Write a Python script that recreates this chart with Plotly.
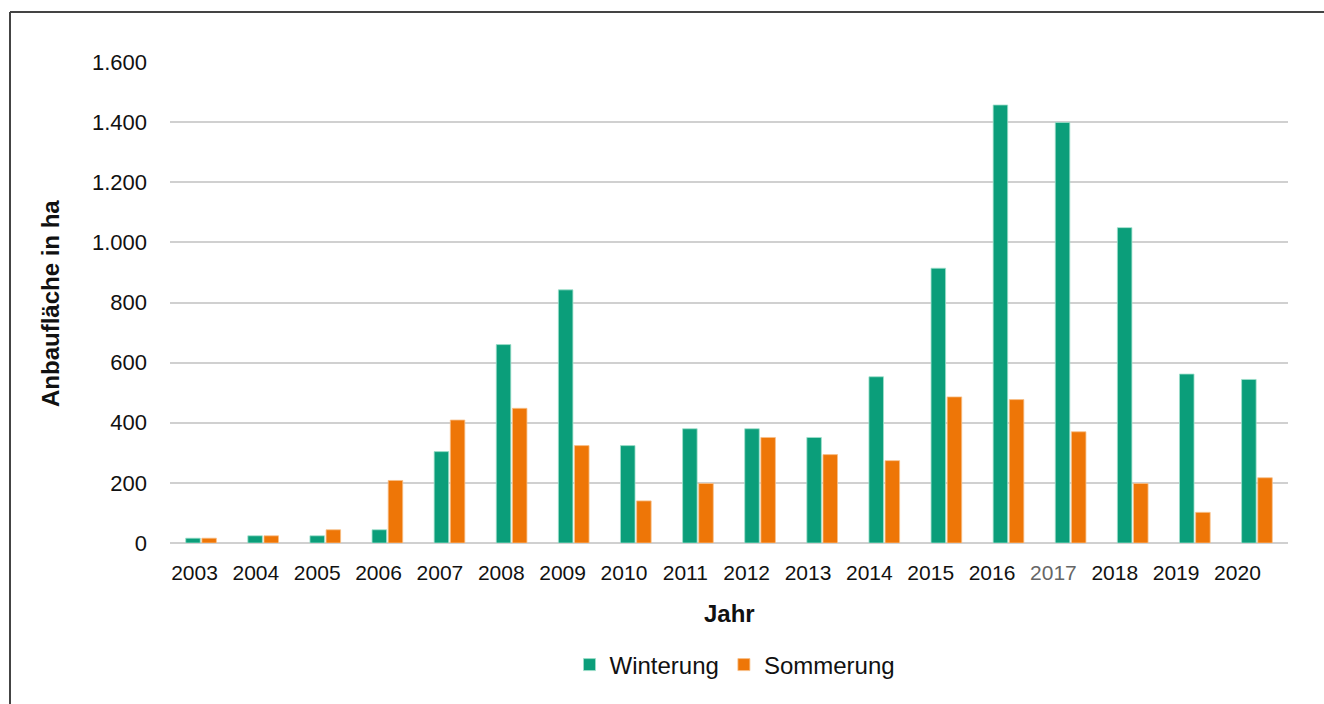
import plotly.graph_objects as go

years = [2003, 2004, 2005, 2006, 2007, 2008, 2009, 2010, 2011, 2012,
         2013, 2014, 2015, 2016, 2017, 2018, 2019, 2020]
winterung = [16, 24, 24, 44, 304, 660, 842, 324, 380, 380,
             351, 553, 914, 1457, 1399, 1049, 562, 544]
sommerung = [16, 24, 44, 208, 409, 448, 324, 140, 198, 351,
             294, 274, 486, 477, 370, 198, 102, 217]
tick_text = [str(y) if y != 2017 else '<span style="color:#666666">2017</span>' for y in years]
y_ticks = [0, 200, 400, 600, 800, 1000, 1200, 1400, 1600]

GREEN = "#0B9E7A"
ORANGE = "#EE7607"
FONT = "Liberation Sans, Arial, Helvetica, sans-serif"

cats = [str(y) for y in years]

fig = go.Figure()
fig.add_trace(go.Bar(x=cats, y=winterung, name="Winterung",
                     marker=dict(color=GREEN, line=dict(color="#9fe0cc", width=0.8))))
fig.add_trace(go.Bar(x=cats, y=sommerung, name="Sommerung",
                     marker=dict(color=ORANGE, line=dict(color="#f8c08a", width=0.8))))
# empty helper trace so the label axis (slightly compressed, as in the original) is drawn
fig.add_trace(go.Scatter(x=[], y=[], xaxis="x2", showlegend=False, hoverinfo="skip"))

OFF = 0  # body margin removed via post_script
W, H = 1324, 704
PL, PR, PT, PB = 170, 1288, 62, 543  # desired screen coords of plot area
L = PL - OFF
R = W - (PR - OFF)
T = PT - OFF
B = H - (PB - OFF)
pw, ph = PR - PL, PB - PT

def px(x):
    return (x - PL) / pw

def py(y):
    return (PB - y) / ph

# label axis: labels spaced 61.35 px, first label centred at 194.5 px
lab_step, lab_first = 61.35, 194.5
a = -(lab_first - PL) / lab_step
b = a + pw / lab_step

fig.update_layout(
    width=W, height=H,
    margin=dict(l=L, r=R, t=T, b=B, autoexpand=False),
    paper_bgcolor="white", plot_bgcolor="white",
    separators=",.",
    barmode="group", bargap=0.48, bargroupgap=0.1,
    font=dict(family=FONT, size=20, color="#111111"),
    showlegend=True,
    legend=dict(orientation="h", x=px(735), xanchor="center", y=py(665), yanchor="middle",
                font=dict(size=24, color="#111111"), itemwidth=30,
                traceorder="normal"),
    xaxis=dict(showticklabels=False, showgrid=False, showline=False, zeroline=False, ticks=""),
    xaxis2=dict(overlaying="x", side="bottom", anchor="y", range=[a, b],
                tickvals=list(range(len(years))), ticktext=tick_text,
                showgrid=False, showline=False, zeroline=False, ticks="",
                tickfont=dict(size=21, color="#111111"), ticklabelstandoff=15),
    yaxis=dict(range=[0, 1600], tickvals=y_ticks, tickformat=",d",
               showgrid=True, gridcolor="#d0d0d0", gridwidth=1.5,
               zeroline=True, zerolinecolor="#d0d0d0", zerolinewidth=1.5,
               showline=False, ticks="", ticklabelstandoff=22,
               tickfont=dict(size=22, color="#111111")),
    annotations=[
        dict(text="<b>Anbaufläche in ha</b>", x=px(50), y=py(304), xref="paper", yref="paper",
             showarrow=False, textangle=-90, font=dict(size=24, color="#111111"),
             xanchor="center", yanchor="middle"),
        dict(text="<b>Jahr</b>", x=px(729), y=py(613), xref="paper", yref="paper",
             showarrow=False, font=dict(size=24, color="#111111"),
             xanchor="center", yanchor="middle"),
    ],
    shapes=[
        dict(type="line", xref="paper", yref="paper",
             x0=px(10), x1=px(1400), y0=py(12), y1=py(12),
             line=dict(color="#444444", width=2), layer="above"),
        dict(type="line", xref="paper", yref="paper",
             x0=px(10), x1=px(10), y0=py(12), y1=py(800),
             line=dict(color="#444444", width=2), layer="above"),
    ],
)

fig.write_html("out.html",
               config={"displayModeBar": False},
               post_script="document.body.style.margin='0';document.body.style.overflow='hidden';")
